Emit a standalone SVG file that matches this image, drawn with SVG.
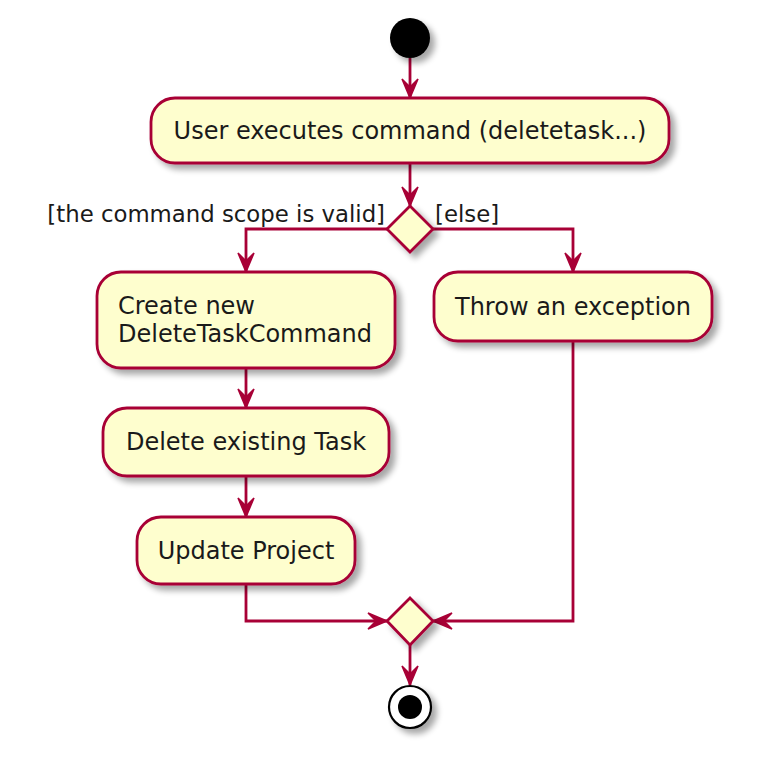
<svg xmlns="http://www.w3.org/2000/svg" width="778" height="784" viewBox="0 0 778 784">
<style>
.act{fill:#FEFECE;stroke:#A80036;stroke-width:2.8;filter:url(#sh)}
.txt{font-family:"DejaVu Sans","Verdana",sans-serif;font-size:24px;fill:#1a1a1a}
.lbl{font-family:"DejaVu Sans","Verdana",sans-serif;font-size:22.8px;fill:#1a1a1a}
.ln{fill:none;stroke:#A80036;stroke-width:2.8;marker-end:url(#ah)}
</style>
<defs>
<filter id="sh" x="-20%" y="-20%" width="150%" height="160%">
<feGaussianBlur in="SourceAlpha" stdDeviation="3"/>
<feOffset dx="5" dy="5" result="b"/>
<feComponentTransfer><feFuncA type="linear" slope="0.35"/></feComponentTransfer>
<feMerge><feMergeNode/><feMergeNode in="SourceGraphic"/></feMerge>
</filter>
<marker id="ah" viewBox="-21 -10 23 20" refX="0" refY="0" markerWidth="23" markerHeight="20" markerUnits="userSpaceOnUse" orient="auto">
<path d="M0,0 L-19,-8 L-11,0 L-19,8 Z" fill="#A80036" stroke="#A80036" stroke-width="1.5" stroke-linejoin="miter"/>
</marker>
</defs>
<rect width="778" height="784" fill="#FFFFFF"/>
<g id="connectors">
<path class="ln" d="M410,58 L410,98"/>
<path class="ln" d="M410,163 L410,206"/>
<path class="ln" d="M387,229 L246,229 L246,272"/>
<path class="ln" d="M433,229 L573,229 L573,272"/>
<path class="ln" d="M246,368 L246,408"/>
<path class="ln" d="M246,476 L246,517"/>
<path class="ln" d="M246,584 L246,621 L387,621"/>
<path class="ln" d="M573,341 L573,621 L433,621"/>
<path class="ln" d="M410,645 L410,685"/>
</g>
<g id="start"><circle cx="410" cy="38" r="20" fill="#000000" filter="url(#sh)"/></g>
<g id="userExecutes">
<rect class="act" x="151" y="98" width="518" height="65" rx="24" ry="24"/>
<text class="txt" x="410" y="139" text-anchor="middle">User executes command (deletetask...)</text>
</g>
<g id="decision">
<polygon class="act" points="410,206 433,229 410,252 387,229"/>
<text class="lbl" x="385" y="222" text-anchor="end">[the command scope is valid]</text>
<text class="lbl" x="435" y="222">[else]</text>
</g>
<g id="createCommand">
<rect class="act" x="97" y="272" width="298" height="96" rx="24" ry="24"/>
<text class="txt" x="118" y="314">Create new</text>
<text class="txt" x="118" y="342">DeleteTaskCommand</text>
</g>
<g id="throwException">
<rect class="act" x="434" y="272" width="278" height="69" rx="24" ry="24"/>
<text class="txt" x="573" y="315" text-anchor="middle">Throw an exception</text>
</g>
<g id="deleteTask">
<rect class="act" x="103" y="408" width="286" height="68" rx="24" ry="24"/>
<text class="txt" x="246" y="450" text-anchor="middle">Delete existing Task</text>
</g>
<g id="updateProject">
<rect class="act" x="137" y="517" width="218" height="67" rx="24" ry="24"/>
<text class="txt" x="246" y="559" text-anchor="middle">Update Project</text>
</g>
<g id="merge"><polygon class="act" points="410,598 433,621 410,645 387,621"/></g>
<g id="end">
<circle cx="410" cy="707" r="21" fill="#FFFFFF" stroke="#000000" stroke-width="2.2" filter="url(#sh)"/>
<circle cx="410" cy="707" r="12" fill="#000000"/>
</g>
</svg>
